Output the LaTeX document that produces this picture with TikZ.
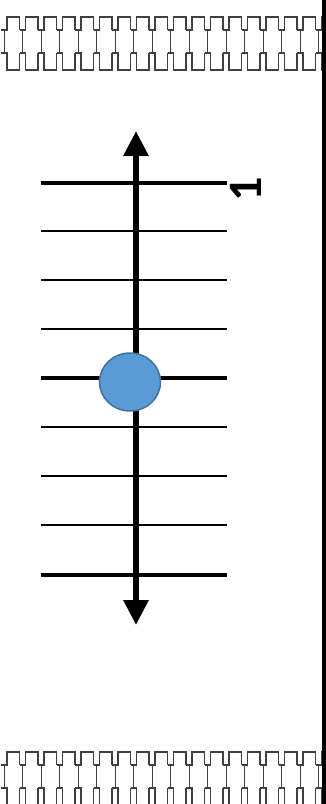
\documentclass[tikz,border=0pt]{standalone}
\usepackage{fontspec}
\setmainfont{Carlito}
\usetikzlibrary{arrows.meta,shapes.geometric}

\begin{document}
\begin{tikzpicture}[
x=1pt, y=-1pt,
axis/.style={line width=6pt, {Triangle[width=24pt,length=25pt]}-{Triangle[width=24pt,length=25pt]}},
majorline/.style={line width=4.5pt},
minorline/.style={line width=1.2pt},
knob/.style={ellipse, draw=knobedge, fill=knobfill, line width=1.5pt, minimum width=61pt, minimum height=58pt, inner sep=0pt},
zip/.style={draw=black!75, line width=1.6pt},
ziprung/.style={draw=black!75, line width=1pt}
]
\definecolor{knobfill}{HTML}{5B9BD5}
\definecolor{knobedge}{HTML}{41719C}
\useasboundingbox (0,0) rectangle (326,804);

% zipper bands, top and bottom
\foreach \yb in {0,735}{
  \foreach \i in {0,...,17}{
    \pgfmathsetmacro\xa{1+18.5*\i}
    \draw[zip] (\xa,\yb+30) -- ++(6,0) -- ++(0,-13) -- ++(12.5,0) -- ++(0,13);
    \draw[zip] (\xa,\yb+53) -- ++(6,0) -- ++(0,17) -- ++(12.5,0) -- ++(0,-17);
    \draw[ziprung] (\xa+3,\yb+30) -- (\xa+3,\yb+53);
  }
}

% scale lines
\foreach \y in {231,280,329,427,476,525}
  \draw[minorline] (41,\y) -- (227,\y);
\foreach \y in {183,378,575}
  \draw[majorline] (41,\y) -- (227,\y);

% axis
\coordinate (axistop) at (136,131);
\coordinate (axisbottom) at (136,625);
\draw[axis] (axisbottom) -- (axistop);

\node[knob] (slider) at (130,382) {};
\node[rotate=90, font=\fontsize{48}{48}\selectfont\bfseries] (mark) at (246,189) {1};

% right edge
\fill (322,0) rectangle (326,804);
\end{tikzpicture}
\end{document}
